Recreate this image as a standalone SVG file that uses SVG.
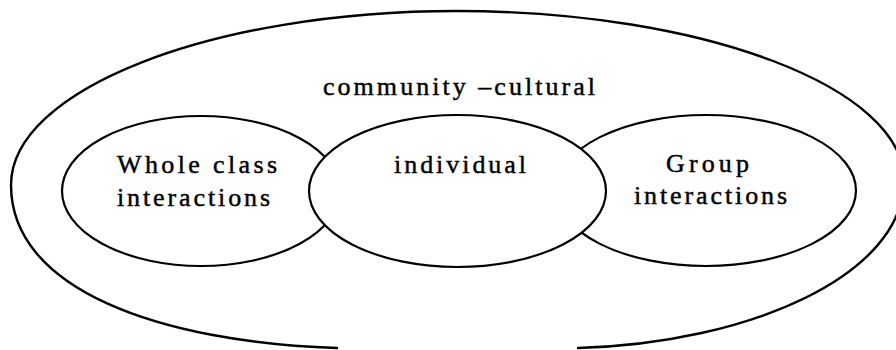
<svg xmlns="http://www.w3.org/2000/svg" width="896" height="350" viewBox="0 0 896 350">
  <style>
    .bg { fill: #ffffff; }
    .outer { fill: none; stroke: #000; stroke-width: 2.4; stroke-linecap: round; }
    .oval { fill: #ffffff; stroke: #000; stroke-width: 2.2; }
    .lbl { font-family: "Liberation Serif", "Times New Roman", serif; font-size: 26px; fill: #000; stroke: #000; stroke-width: 0.45; }
  </style>
  <rect class="bg" x="0" y="0" width="896" height="350"/>

  <g id="community-cultural">
    <path class="outer" d="M 337 348 C 160 342 11 290 11 185 C 11 90 211 11 457 11 C 704 11 904 88 904 180 C 904 275 750 343 578 348"/>
    <text class="lbl" x="323" y="94.5" textLength="272" lengthAdjust="spacing">community –cultural</text>
  </g>

  <g id="whole-class">
    <ellipse class="oval" cx="201" cy="191" rx="139" ry="75"/>
    <text class="lbl" x="117" y="172.5" textLength="160" lengthAdjust="spacing">Whole class</text>
    <text class="lbl" x="117" y="206" textLength="153" lengthAdjust="spacing">interactions</text>
  </g>

  <g id="group">
    <ellipse class="oval" cx="706" cy="190.5" rx="150" ry="75.5"/>
    <text class="lbl" x="666" y="171.5" textLength="83" lengthAdjust="spacing">Group</text>
    <text class="lbl" x="634" y="203.5" textLength="153" lengthAdjust="spacing">interactions</text>
  </g>

  <g id="individual">
    <ellipse class="oval" cx="457.5" cy="191" rx="148.5" ry="76"/>
    <text class="lbl" x="394" y="172.5" textLength="132" lengthAdjust="spacing">individual</text>
  </g>

  <g id="connectors"/>
</svg>
